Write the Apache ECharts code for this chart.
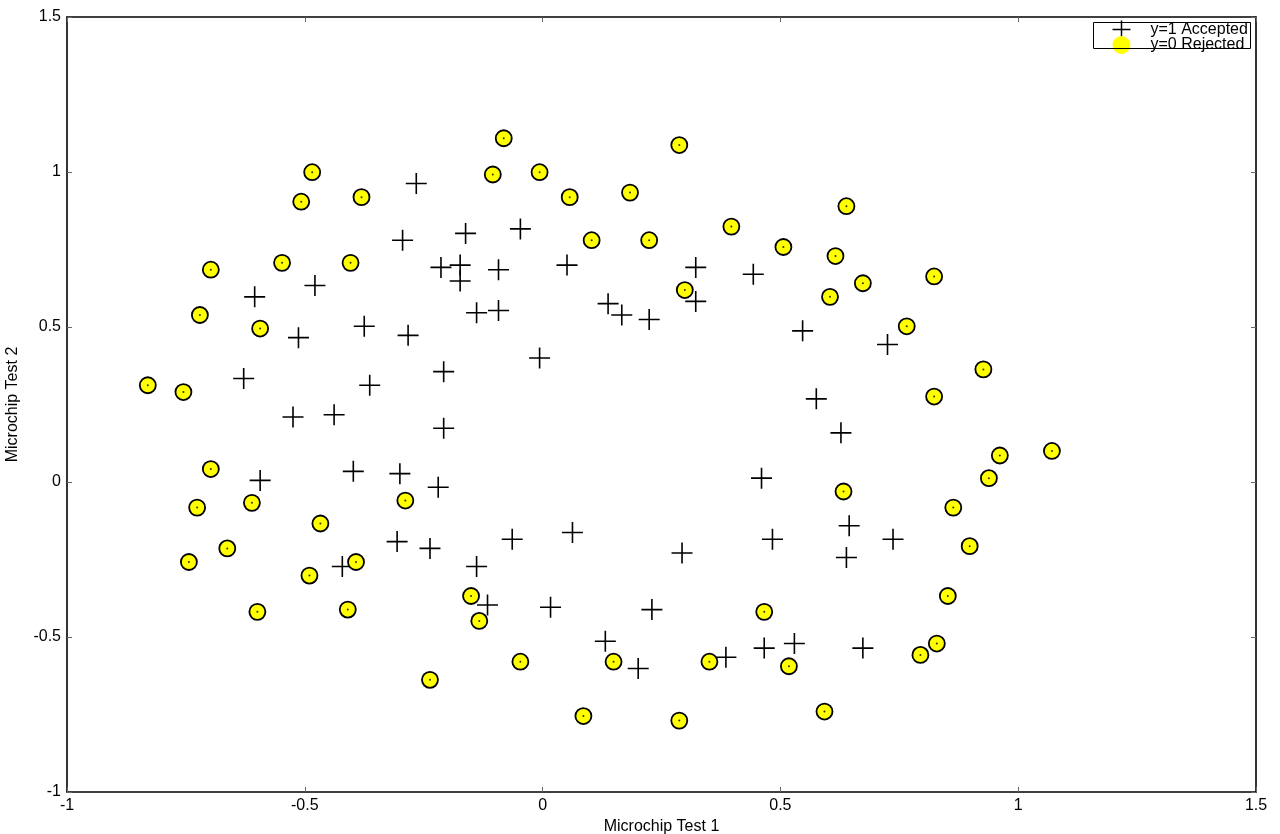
<!DOCTYPE html>
<html>
<head>
<meta charset="utf-8">
<script src="https://cdn.jsdelivr.net/npm/echarts@6/dist/echarts.min.js"></script>
<style>
  html, body { margin: 0; padding: 0; background: #fff; }
  #chart { width: 1280px; height: 834px; }
</style>
</head>
<body>
<div id="chart"></div>
<script>
// accepted chips (y = 1): [test1, test2]
var accepted = [
    [0.0513, 0.6996], [-0.0927, 0.6849], [-0.2137, 0.6923], [-0.375, 0.5022], [-0.5133, 0.4656],
    [-0.5248, 0.2098], [-0.398, 0.0344], [-0.3059, -0.1923], [0.0167, -0.4042], [0.1319, -0.5139],
    [0.3854, -0.5651], [0.5294, -0.5212], [0.6388, -0.2434], [0.7368, -0.1849], [0.5467, 0.4876],
    [0.322, 0.5826], [0.1665, 0.5387], [-0.0467, 0.8165], [-0.1734, 0.6996], [-0.4787, 0.6338],
    [-0.6054, 0.5972], [-0.6285, 0.3341], [-0.5939, 0.0051], [-0.4211, -0.2727], [-0.1158, -0.3969],
    [0.201, -0.6016], [0.466, -0.5358], [0.6734, -0.5358], [-0.1388, 0.5461], [-0.2944, 0.78],
    [-0.2656, 0.9627], [-0.1619, 0.8019], [-0.1734, 0.6484], [-0.2828, 0.473], [-0.3635, 0.3121],
    [-0.3001, 0.027], [-0.2368, -0.2142], [-0.0639, -0.1849], [0.0628, -0.163], [0.2298, -0.4116],
    [0.2932, -0.2288], [0.4833, -0.1849], [0.6446, -0.1411], [0.4603, 0.0124], [0.6273, 0.1586],
    [0.5755, 0.2683], [0.7252, 0.4437], [0.2241, 0.5241], [0.443, 0.6703], [0.322, 0.6923],
    [0.1377, 0.5753], [-0.0063, 0.3999], [-0.0927, 0.5534], [-0.208, 0.356], [-0.208, 0.1733],
    [-0.4384, 0.2171], [-0.2195, -0.0168], [-0.1388, -0.2727]
];

// rejected chips (y = 0)
var rejected = [
    [0.1838, 0.9335], [0.2241, 0.78], [0.299, 0.6192], [0.5063, 0.758], [0.6158, 0.7288],
    [0.6043, 0.5972], [0.7656, 0.5022], [0.9268, 0.3633], [0.8232, 0.2756], [0.9614, 0.0855],
    [0.9384, 0.0124], [0.8635, -0.0826], [0.898, -0.2069], [0.852, -0.3677], [0.8289, -0.5212],
    [0.7944, -0.5578], [0.5927, -0.7405], [0.5179, -0.5943], [0.466, -0.4189], [0.3508, -0.5797],
    [0.2874, -0.7697], [0.0858, -0.7551], [0.1492, -0.5797], [-0.1331, -0.4481], [-0.4096, -0.4116],
    [-0.3923, -0.258], [-0.7437, -0.258], [-0.6976, 0.0417], [-0.7552, 0.2902], [-0.6976, 0.6849],
    [-0.4038, 0.7069], [-0.3808, 0.9189], [-0.5075, 0.9042], [-0.5478, 0.7069], [0.1031, 0.78],
    [0.057, 0.9189], [-0.1047, 0.992], [-0.0817, 1.1089], [0.2874, 1.087], [0.3969, 0.8238],
    [0.6388, 0.8896], [0.8232, 0.663], [0.6734, 0.6411], [1.0709, 0.1002], [-0.0467, -0.5797],
    [-0.2368, -0.6382], [-0.1504, -0.3677], [-0.4902, -0.3019], [-0.4672, -0.1338], [-0.2886, -0.0599],
    [-0.6112, -0.0673], [-0.663, -0.2142], [-0.5997, -0.4189], [-0.7264, -0.0826], [-0.8301, 0.3121],
    [-0.7206, 0.5387], [-0.5939, 0.4949], [-0.4845, 0.9993], [-0.0063, 0.9993], [0.6327, -0.0306]
];

var seriesNames = ["y=1 Accepted", "y=0 Rejected"];
var axisMin = -1, axisMax = 1.5, axisStep = 0.5;

var fontName = "Liberation Sans, Arial, Helvetica, sans-serif";
var plusPath = "path://M10,0L10,20M0,10L20,10";

var labelStyle = { color: "#000", fontSize: 16, fontFamily: fontName };

var makeAxis = function (pos, name, showLabel) {
    var ax = {
        type: "value",
        position: pos,
        min: axisMin,
        max: axisMax,
        interval: axisStep,
        axisLine: { show: true, onZero: false, lineStyle: { color: "#000", width: 1.6 } },
        axisTick: { show: true, inside: true, length: 5, lineStyle: { color: "#666", width: 1 } },
        axisLabel: showLabel ? Object.assign({ margin: 6 }, labelStyle) : { show: false },
        splitLine: { show: false }
    };
    if (name) {
        ax.name = name;
        ax.nameLocation = "middle";
        ax.nameTextStyle = labelStyle;
    }
    return ax;
};

var xBottom = makeAxis("bottom", "Microchip Test 1", true);
xBottom.nameGap = 26;
var yLeft = makeAxis("left", "Microchip Test 2", true);
yLeft.nameGap = 46;
yLeft.nameRotate = 90;

var myChart = echarts.init(document.getElementById("chart"));

var option = {
    backgroundColor: "#fff",
    animation: false,
    grid: { left: 67, right: 24, top: 17, bottom: 42, containLabel: false, outerBoundsMode: "none" },
    xAxis: [xBottom, makeAxis("top", null, false)],
    yAxis: [yLeft, makeAxis("right", null, false)],
    // legend frame (the legend's own items overhang it, as in the original)
    graphic: [{
        type: "rect",
        z: 10,
        shape: { x: 1093.5, y: 22.5, width: 157, height: 26 },
        style: { fill: "none", stroke: "#000", lineWidth: 1 }
    }],
    legend: {
        data: [
            { name: seriesNames[0], icon: plusPath, itemStyle: { color: "none", borderColor: "#000", borderWidth: 1.5 } },
            { name: seriesNames[1], icon: "circle", itemStyle: { color: "#ffff00", borderWidth: 0 } }
        ],
        orient: "vertical",
        left: 1110,
        top: 18,
        itemGap: -5,
        itemWidth: 22,
        itemHeight: 18,
        padding: 0,
        textStyle: { color: "#000", fontSize: 16, fontFamily: fontName, padding: [0, 0, 0, 13], lineHeight: 13 }
    },
    series: [
        {
            name: seriesNames[0],
            type: "scatter",
            data: accepted,
            symbol: plusPath,
            symbolSize: 21,
            itemStyle: { color: "none", borderColor: "#000", borderWidth: 1.6, opacity: 1 },
            emphasis: { disabled: true }
        },
        {
            name: seriesNames[1],
            type: "scatter",
            data: rejected,
            symbol: "circle",
            symbolSize: 16,
            itemStyle: { color: "#ffff00", borderColor: "#000", borderWidth: 1.8, opacity: 1 },
            emphasis: { disabled: true }
        },
        {
            // small centre dot drawn inside each rejected marker
            name: "dot",
            type: "scatter",
            data: rejected,
            symbol: "circle",
            symbolSize: 2,
            silent: true,
            itemStyle: { color: "#000" },
            z: 3
        }
    ]
};

myChart.setOption(option);
</script>
</body>
</html>
